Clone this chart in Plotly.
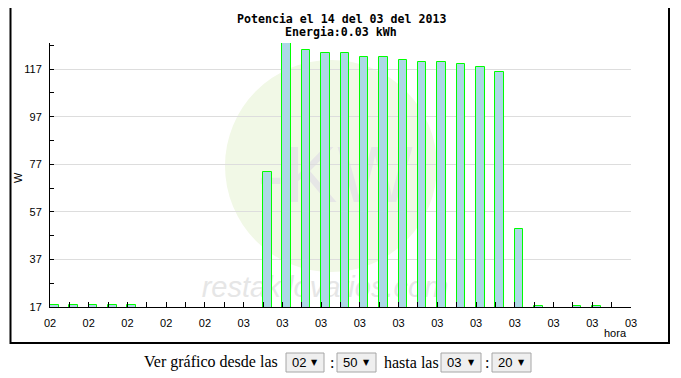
import plotly.graph_objects as go

# ---------------- data ----------------
minutes = ["02:50", "02:51", "02:52", "02:53", "02:54", "02:55", "02:56", "02:57",
           "02:58", "02:59", "03:00", "03:01", "03:02", "03:03", "03:04", "03:05",
           "03:06", "03:07", "03:08", "03:09", "03:10", "03:11", "03:12", "03:13",
           "03:14", "03:15", "03:16", "03:17", "03:18", "03:19", "03:20"]
power_w = [17.7, 17.7, 17.7, 17.7, 17.7, 0, 0, 0,
           0, 0, 0, 73.9, 128.0, 125.1, 123.9, 123.9,
           122.2, 122.2, 120.9, 120.1, 120.1, 119.3, 118.0, 116.0,
           49.9, 17.6, 0, 17.6, 17.6, 0, 0]
y_ticks = [17, 37, 57, 77, 97, 117]
y_minor = [27, 47, 67, 87, 107, 127]
title_line1 = "Potencia el 14 del 03 del 2013"
title_line2 = "Energia:0.03 kWh"
form_from = ("02", "50")
form_to = ("03", "20")

# ---------------- geometry helpers (page pixel coords) ----------------
OFF = 8                      # default body margin of the html page
PAGE_W, PAGE_H = 681, 378
W, H = PAGE_W - OFF, PAGE_H - OFF
X0, X1, Y0, Y1 = 50, 631, 43, 307   # plot area in page pixels
PW, PH = X1 - X0, Y1 - Y0
L, T = X0 - OFF, Y0 - OFF
R, B = W - L - PW, H - T - PH


def px(x):
    return (x - X0) / PW


def py(y):
    return (Y1 - y) / PH


idx = list(range(len(minutes)))
tick_idx = idx[::2]
tick_txt = [minutes[i].split(":")[0] for i in tick_idx]

fig = go.Figure()
fig.add_trace(go.Bar(
    x=idx[:-1], y=power_w[:-1], offset=0, width=0.44,
    marker=dict(color="#add8e6", line=dict(color="#00ff00", width=1)),
    hoverinfo="skip", showlegend=False,
))

tickfont = dict(family="Liberation Sans", size=11, color="black")

fig.update_xaxes(
    range=[0, len(minutes) - 1], tickvals=tick_idx, ticktext=tick_txt,
    ticks="inside", ticklen=5, tickcolor="black", tickwidth=1,
    showline=True, linecolor="black", linewidth=1, showgrid=False, zeroline=False,
    minor=dict(dtick=1, tick0=0, ticks="inside", ticklen=5, tickcolor="black", showgrid=False),
    tickfont=tickfont, ticklabelstandoff=6,
)
fig.update_yaxes(
    range=[17, 128], tickvals=y_ticks, ticks="inside", ticklen=4, tickcolor="black",
    showline=True, linecolor="black", linewidth=1, showgrid=True, gridcolor="#dddddd",
    gridwidth=1, zeroline=False,
    minor=dict(tickvals=y_minor, ticks="inside", ticklen=4, tickcolor="black", showgrid=False),
    tickfont=tickfont, ticklabelstandoff=5,
)

shapes = []
# watermark circle
shapes.append(dict(type="circle", xref="paper", yref="paper",
                   x0=px(225), x1=px(437), y0=py(272), y1=py(60),
                   fillcolor="#f1f8e6", line=dict(width=0), layer="below"))
# watermark texts
shapes.append(dict(type="rect", xref="paper", yref="paper",
                   x0=px(255), x1=px(415), y0=py(206), y1=py(126),
                   line=dict(width=0), fillcolor="rgba(0,0,0,0)", layer="below",
                   label=dict(text="-KW", textposition="middle center",
                              font=dict(family="Liberation Sans", size=80, color="#e6e6e6"))))
shapes.append(dict(type="rect", xref="paper", yref="paper",
                   x0=px(195), x1=px(455), y0=py(302), y1=py(266),
                   line=dict(width=0), fillcolor="rgba(0,0,0,0)", layer="below",
                   label=dict(text="restakilovatios.com", textposition="middle center",
                              font=dict(family="Liberation Sans", size=29, color="#e6e6e6",
                                        style="italic"))))
# outer frame
shapes.append(dict(type="rect", xref="paper", yref="paper",
                   x0=px(10.5), x1=px(669), y0=py(343), y1=py(6.5),
                   line=dict(color="black", width=2), fillcolor="rgba(0,0,0,0)"))
# select boxes
boxes = [(286, 324), (337, 376), (441, 481), (492, 531)]
for x0, x1 in boxes:
    shapes.append(dict(type="rect", xref="paper", yref="paper",
                       x0=px(x0), x1=px(x1), y0=py(372), y1=py(353),
                       line=dict(color="#a6a6a6", width=1), fillcolor="#efefef"))

ann = []
tfont = dict(family="DejaVu Sans Mono", size=11.6, color="black", weight="bold")
ann.append(dict(text=title_line1, x=px(341), y=py(18.5), xref="paper", yref="paper",
                showarrow=False, font=tfont, xanchor="center", yanchor="middle"))
ann.append(dict(text=title_line2, x=px(341), y=py(31.5), xref="paper", yref="paper",
                showarrow=False, font=tfont, xanchor="center", yanchor="middle"))
ann.append(dict(text="hora", x=px(629), y=py(333), xref="paper", yref="paper",
                showarrow=False, font=tickfont, xanchor="right", yanchor="middle"))
ann.append(dict(text="W", x=px(18), y=py(178), xref="paper", yref="paper", textangle=-90,
                showarrow=False, font=tickfont, xanchor="center", yanchor="middle"))

sfont = dict(family="Liberation Serif", size=16, color="black")
selfont = dict(family="Liberation Sans", size=13, color="black")
arrfont = dict(family="DejaVu Sans", size=8, color="black")
ann.append(dict(text="Ver gráfico desde las", x=px(280), y=py(362), xref="paper", yref="paper",
                showarrow=False, font=sfont, xanchor="right", yanchor="middle"))
ann.append(dict(text=":", x=px(332), y=py(362), xref="paper", yref="paper",
                showarrow=False, font=sfont, xanchor="center", yanchor="middle"))
ann.append(dict(text="hasta las", x=px(382), y=py(362), xref="paper", yref="paper",
                showarrow=False, font=sfont, xanchor="left", yanchor="middle"))
ann.append(dict(text=":", x=px(486.5), y=py(362), xref="paper", yref="paper",
                showarrow=False, font=sfont, xanchor="center", yanchor="middle"))
vals = [form_from[0], form_from[1], form_to[0], form_to[1]]
for (x0, x1), v in zip(boxes, vals):
    ann.append(dict(text=v, x=px(x0 + 4), y=py(362.5), xref="paper", yref="paper",
                    showarrow=False, font=selfont, xanchor="left", yanchor="middle"))
    ann.append(dict(text="▼", x=px(x1 - 10), y=py(362), xref="paper", yref="paper",
                    showarrow=False, font=arrfont, xanchor="center", yanchor="middle"))

fig.update_layout(
    width=W, height=H, margin=dict(l=L, r=R, t=T, b=B, pad=0),
    paper_bgcolor="white", plot_bgcolor="rgba(0,0,0,0)",
    shapes=shapes, annotations=ann, bargap=0, showlegend=False,
)
fig.write_html("out.html")
